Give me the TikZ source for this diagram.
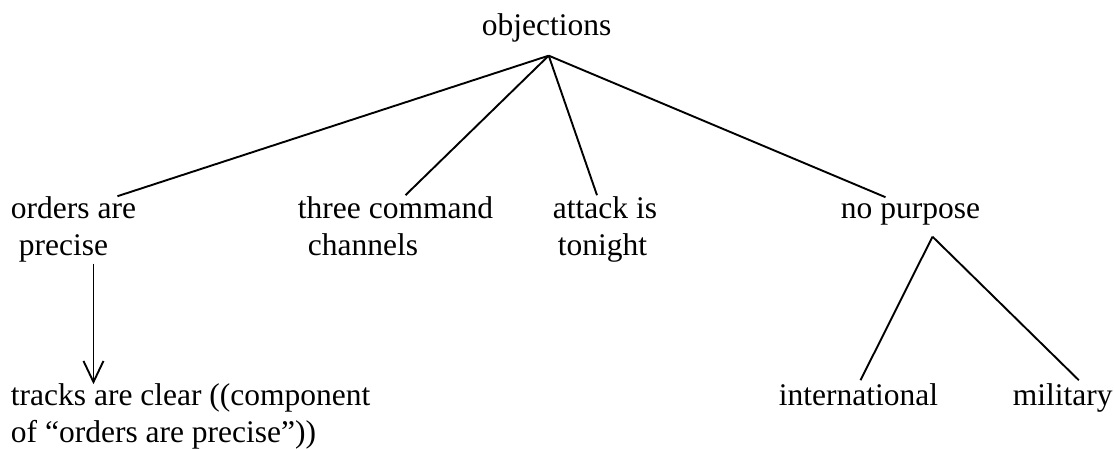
\documentclass[tikz,border=0pt]{standalone}
\usepackage{fontspec}
\setmainfont{Liberation Serif}
\usetikzlibrary{arrows.meta}

\begin{document}
\begin{tikzpicture}[x=1pt,y=-1pt,line width=1.9pt,
  txt/.style={anchor=base west,inner sep=0pt,align=left,font=\fontsize{31.5pt}{37pt}\selectfont}]
\useasboundingbox (0,0) rectangle (1114,449);
\node[txt] (objections) at (481,36) {objections};
\node[txt] (orders) at (10,256) {orders are\\\hspace*{8pt}precise};
\node[txt] (command) at (297,255) {three command\\\hspace*{10pt}channels};
\node[txt] (attack) at (552,255) {attack is\\\hspace*{5pt}tonight};
\node[txt] (nopurpose) at (840,219) {no purpose};
\node[txt] (tracks) at (10,442) {tracks are clear ((component\\of “orders are precise”))};
\node[txt] (international) at (778,405) {international};
\node[txt] (military) at (1012,405) {military};
\coordinate (top) at ([xshift=2pt,yshift=-12pt]objections.south);
\coordinate (nptop) at ([xshift=22pt,yshift=-10pt]nopurpose.south);
\path[black] (top) edge ([xshift=44pt]orders.north);
\path[black] (top) edge ([xshift=10pt]command.north);
\path[black] (top) edge ([xshift=-8pt]attack.north);
\path[black] (top) edge ([xshift=-25pt,yshift=6pt]nopurpose.north);
\path[black] (nptop) edge ([xshift=2pt,yshift=2pt]international.north);
\path[black] (nptop) edge ([xshift=16pt,yshift=2pt]military.north);
\path[black,-{Straight Barb[length=21pt,width=20pt]}] ([xshift=20pt]orders.south) edge ([xshift=20pt,yshift=-2pt]orders.south |- tracks.north);
\end{tikzpicture}
\end{document}
